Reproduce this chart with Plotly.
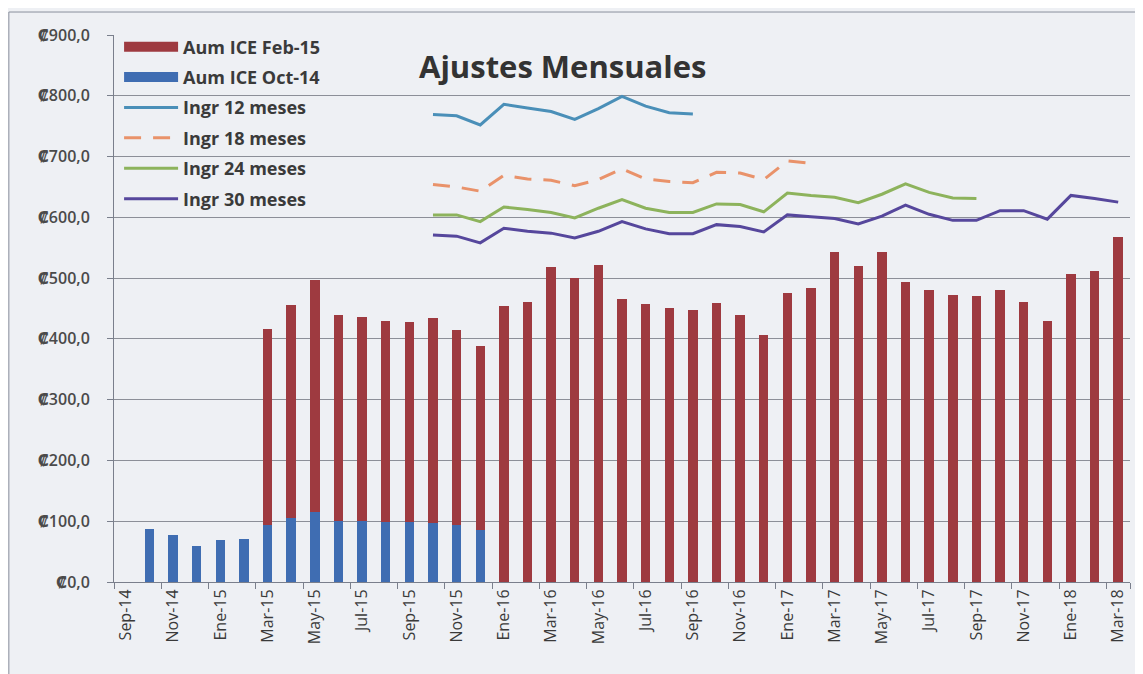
import plotly.graph_objects as go

categories = ["Sep-14", "Oct-14", "Nov-14", "Dic-14",
              "Ene-15", "Feb-15", "Mar-15", "Abr-15", "May-15", "Jun-15", "Jul-15", "Ago-15", "Sep-15", "Oct-15", "Nov-15", "Dic-15",
              "Ene-16", "Feb-16", "Mar-16", "Abr-16", "May-16", "Jun-16", "Jul-16", "Ago-16", "Sep-16", "Oct-16", "Nov-16", "Dic-16",
              "Ene-17", "Feb-17", "Mar-17", "Abr-17", "May-17", "Jun-17", "Jul-17", "Ago-17", "Sep-17", "Oct-17", "Nov-17", "Dic-17",
              "Ene-18", "Feb-18", "Mar-18"]

# Aum ICE Oct-14 (blue, bottom of stack): Oct-14 .. Dic-15
oct14_cats = categories[1:16]
oct14_vals = [88, 78, 60, 69, 71, 93, 105, 116, 101, 101, 98, 98, 97, 93, 86]

# Aum ICE Feb-15 (red, stacked on blue): Mar-15 .. Mar-18
feb15_cats = categories[6:]
feb15_vals = [323, 350, 381, 339, 335, 331, 329, 338, 322, 302,
              454, 461, 519, 501, 521, 466, 457, 451, 448, 459, 439, 406,
              475, 484, 543, 520, 543, 493, 481, 473, 470, 481, 461, 430,
              507, 512, 567]

# Income lines (start Oct-15)
ingr12_cats = categories[13:25]
ingr12_vals = [769, 767, 752, 786, 780, 774, 761, 779, 799, 783, 772, 770]

ingr18_cats = categories[13:30]
ingr18_vals = [654, 650, 643, 669, 663, 661, 652, 662, 680, 663, 659, 657, 674, 673, 662, 693, 689]

ingr24_cats = categories[13:37]
ingr24_vals = [604, 604, 593, 617, 613, 608, 599, 615, 629, 615, 608, 608, 622, 621, 609,
               640, 636, 633, 624, 638, 655, 641, 632, 631]

ingr30_cats = categories[13:43]
ingr30_vals = [571, 569, 558, 582, 577, 574, 566, 577, 593, 581, 573, 573, 588, 585, 576,
               604, 601, 598, 589, 602, 620, 605, 595, 595, 611, 611, 597, 636, 631, 625]

x_tick_labels = categories[::2]
y_tick_vals = [0, 100, 200, 300, 400, 500, 600, 700, 800, 900]
y_tick_text = ["₡0,0", "₡100,0", "₡200,0", "₡300,0", "₡400,0",
               "₡500,0", "₡600,0", "₡700,0", "₡800,0", "₡900,0"]

FONT = "Open Sans, DejaVu Sans, sans-serif"
TXT = "#3a3a3a"
RED = "#9e3a40"
BLUE = "#3f6db2"

fig = go.Figure()
fig.add_trace(go.Bar(x=oct14_cats, y=oct14_vals, name="Aum ICE Oct-14",
                     marker=dict(color=BLUE, line=dict(width=0)), showlegend=False))
fig.add_trace(go.Bar(x=feb15_cats, y=feb15_vals, name="Aum ICE Feb-15",
                     marker=dict(color=RED, line=dict(width=0)), showlegend=False))
# legend-only swatches for the bar series (wide rectangles, as in the original)
fig.add_trace(go.Scatter(x=[None], y=[None], name="<b>Aum ICE Feb-15</b>", mode="lines",
                         line=dict(color=RED, width=10), legendrank=1, legendgroup="a"))
fig.add_trace(go.Scatter(x=[None], y=[None], name="<b>Aum ICE Oct-14</b>", mode="lines",
                         line=dict(color=BLUE, width=10), legendrank=2, legendgroup="b"))
fig.add_trace(go.Scatter(x=ingr12_cats, y=ingr12_vals, name="<b>Ingr 12 meses</b>", mode="lines",
                         line=dict(color="#4a8fb8", width=3), legendrank=3, legendgroup="c"))
fig.add_trace(go.Scatter(x=ingr18_cats, y=ingr18_vals, name="<b>Ingr 18 meses</b>", mode="lines",
                         line=dict(color="#e9926a", width=3, dash="17px,12px"), legendrank=4, legendgroup="d"))
fig.add_trace(go.Scatter(x=ingr24_cats, y=ingr24_vals, name="<b>Ingr 24 meses</b>", mode="lines",
                         line=dict(color="#8db35c", width=3), legendrank=5, legendgroup="e"))
fig.add_trace(go.Scatter(x=ingr30_cats, y=ingr30_vals, name="<b>Ingr 30 meses</b>", mode="lines",
                         line=dict(color="#56479c", width=3), legendrank=6, legendgroup="f"))

fig.update_layout(
    width=1135, height=666,
    margin=dict(l=106, r=13, t=27, b=92),
    paper_bgcolor="#eef0f4", plot_bgcolor="#eef0f4",
    barmode="stack", bargap=0.6,
    showlegend=True,
    legend=dict(x=0.005, y=1.012, xanchor="left", yanchor="top",
                bgcolor="rgba(0,0,0,0)", tracegroupgap=4,
                font=dict(family=FONT, size=18, color=TXT),
                itemwidth=54),
    annotations=[dict(text="<b>Ajustes Mensuales</b>", xref="paper", yref="paper",
                      x=0.441, y=0.943, xanchor="center", yanchor="middle", showarrow=False,
                      font=dict(family=FONT, size=31, color="#333333"))],
    shapes=[dict(type="rect", xref="paper", yref="paper", x0=-0.1035, x1=1.05, y0=-0.25, y1=1.042,
                 line=dict(color="#8a8f9c", width=1), layer="below")],
)

fig.update_xaxes(type="category", categoryorder="array", categoryarray=categories,
                 tickmode="array", tickvals=x_tick_labels, ticktext=x_tick_labels,
                 tickson="boundaries", ticks="outside", ticklen=6, tickcolor="#7a7f8c",
                 tickangle=-90, tickfont=dict(family=FONT, size=16, color=TXT),
                 showline=True, linecolor="#7a7f8c", linewidth=1, showgrid=False,
                 range=[-0.5, len(categories) - 0.5])
fig.update_yaxes(range=[0, 900], tickmode="array", tickvals=y_tick_vals, ticktext=y_tick_text,
                 ticks="outside", ticklen=6, tickcolor="#7a7f8c", ticklabelstandoff=14,
                 showline=True, linecolor="#7a7f8c", linewidth=1,
                 showgrid=True, gridcolor="#8c8f98", gridwidth=1, zeroline=False,
                 tickfont=dict(family=FONT, size=16, color="#4a4a4a", weight=600))

fig.write_html("out.html")
